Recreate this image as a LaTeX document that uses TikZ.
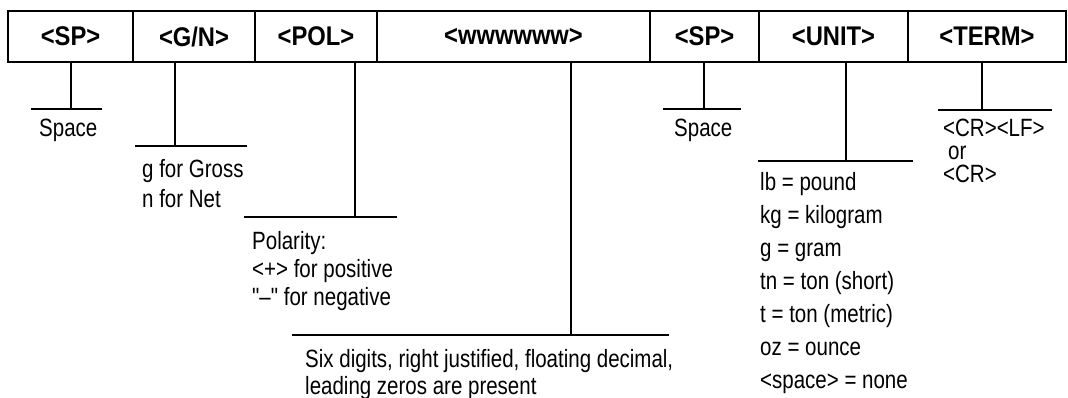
\documentclass[tikz,border=0pt]{standalone}
\usepackage{fontspec}
\setmainfont{Liberation Sans}[FakeStretch=0.82, Ligatures=TeXOff]
\newfontfamily\headfont{Liberation Sans}[FakeStretch=0.88]
\usetikzlibrary{positioning}

\tikzset{
  field/.style={draw, line width=1.2pt, minimum height=51pt, inner sep=0pt,
    font=\headfont\bfseries\fontsize{27}{27}\selectfont},
  note/.style={anchor=north west, inner sep=0pt, align=left,
    font=\fontsize{25}{30}\selectfont},
  lead/.style={line width=1.1pt},
}

\begin{document}
\begin{tikzpicture}[x=1pt,y=-1pt]
\useasboundingbox (0,0) rectangle (1068,398);

% the record fields
\node[field, minimum width=125pt] (sp1)  at (70.5,36.5)  {<SP>};
\node[field, minimum width=122pt] (gn)   at (194,36.5)   {<G/N>};
\node[field, minimum width=122pt] (pol)  at (316,36.5)   {<POL>};
\node[field, minimum width=273pt] (wt)   at (513.5,36.5) {<wwwwww>};
\node[field, minimum width=109pt] (sp2)  at (704.5,36.5) {<SP>};
\node[field, minimum width=149pt] (unit) at (833.5,36.5) {<UNIT>};
\node[field, minimum width=158pt] (term) at (987,36.5)   {<TERM>};

% stems and bars
\foreach \f/\sx/\by/\bl/\br in {sp1/71/109/31/102, gn/175/146/135/247,
    pol/355/217/244/397, wt/571/335/292/669, sp2/704/109/663/741,
    unit/846/161/758/913, term/982/110/938/1052}{
  \coordinate (\f foot) at (\sx,\by);
  \coordinate (\f L) at (\bl,\by);
  \coordinate (\f R) at (\br,\by);
  \draw[lead] (\f.south -| \f foot) -- (\f foot);
  \draw[lead] (\f L) -- (\f R);
}

% descriptions
\node[note] (sp1txt)  at (39,119)  {Space};
\node[note] (gntxt)   at (142,159) {g for Gross\\n for Net};
\node[note, font=\fontsize{25}{28}\selectfont] (poltxt) at (252,231)
  {Polarity:\\<+> for positive\\"–" for negative};
\node[note, font=\fontsize{25}{27}\selectfont] (wttxt) at (305,349)
  {Six digits, right justified, floating decimal,\\leading zeros are present};
\node[note] (sp2txt)  at (674,119) {Space};
\node[note, font=\fontsize{25}{33}\selectfont] (unittxt) at (760,172)
  {lb = pound\\kg = kilogram\\g = gram\\tn = ton (short)\\t = ton (metric)\\oz = ounce\\<space> = none};
\node[note, font=\fontsize{25}{23}\selectfont] (termtxt) at (943,119)
  {<CR><LF>\\\hspace{5pt}or\\<CR>};

\end{tikzpicture}
\end{document}
